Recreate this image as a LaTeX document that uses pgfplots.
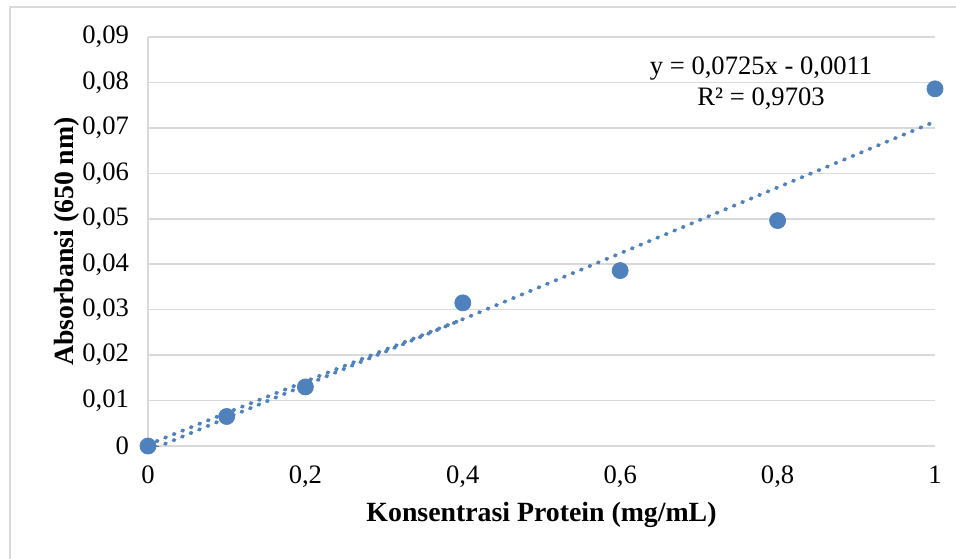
\documentclass[border=0pt]{standalone}
\usepackage{fontspec}
\setmainfont{Liberation Serif}
\usepackage{pgfplots}
\pgfplotsset{compat=1.18}
\definecolor{ptblue}{HTML}{4F81BD}
\definecolor{gridgray}{HTML}{D9D9D9}

\begin{document}
\begin{tikzpicture}
% 1 px of the reference = 0.5pt
\begin{axis}[
    at={(0,0)}, anchor=south west,
    scale only axis, width=393.5pt, height=204.5pt,
    xmin=0, xmax=1, ymin=0, ymax=0.09,
    xtick={0,0.2,0.4,0.6,0.8,1},
    ytick={0,0.01,0.02,0.03,0.04,0.05,0.06,0.07,0.08,0.09},
    scaled ticks=false,
    axis x line*=bottom, axis y line*=left,
    axis line style={gridgray, line width=0.8pt, -},
    ymajorgrids, grid style={gridgray, line width=0.8pt},
    major tick length=0pt,
    tick label style={font=\fontsize{13.3}{15}\selectfont},
    xticklabel style={yshift=-6.5pt},
    yticklabel style={xshift=-6pt},
    /pgf/number format/.cd, use comma, fixed, precision=4, assume math mode=true,
    /pgfplots/.cd,
    xlabel={\textbf{Konsentrasi Protein (mg/mL)}},
    ylabel={\textbf{Absorbansi (650 nm)}},
    label style={font=\fontsize{13.9}{15}\selectfont},
    xlabel style={at={(axis description cs:0.5,-0.169)}, anchor=center},
    ylabel style={at={(axis description cs:-0.103,0.5)}, anchor=center},
    clip=true,
]
% trend lines (dotted)
\addplot[ptblue, line width=1.9pt, line cap=round, dash pattern=on 0.6pt off 4pt]
    coordinates {(0,-0.0011)(1,0.0714)};
\addplot[ptblue, line width=1.9pt, line cap=round, dash pattern=on 0.6pt off 4pt]
    coordinates {(0,0.0003)(0.1,0.0073)(0.2,0.0142)(0.3,0.0211)(0.4,0.0279)};
% data
\addplot[only marks, mark=*, mark size=4pt, color=ptblue, mark options={fill=ptblue, draw=ptblue}]
    coordinates {(0,0)(0.1,0.0065)(0.2,0.0130)(0.4,0.0315)(0.6,0.0386)(0.8,0.0496)(1,0.0786)};
\node[align=center, font=\fontsize{13.3}{14}\selectfont] at (axis cs:0.779,0.0799)
    {y = 0,0725x - 0,0011\\[1.3pt]R² = 0,9703};
\end{axis}
% chart area border (cropped at right and bottom)
\draw[gridgray, line width=0.8pt] (-69pt,-70pt) -- (-69pt,219.5pt) -- (420pt,219.5pt);
\pgfresetboundingbox
\path[use as bounding box] (-74pt,-56pt) rectangle (404pt,223pt);
\end{tikzpicture}
\end{document}
